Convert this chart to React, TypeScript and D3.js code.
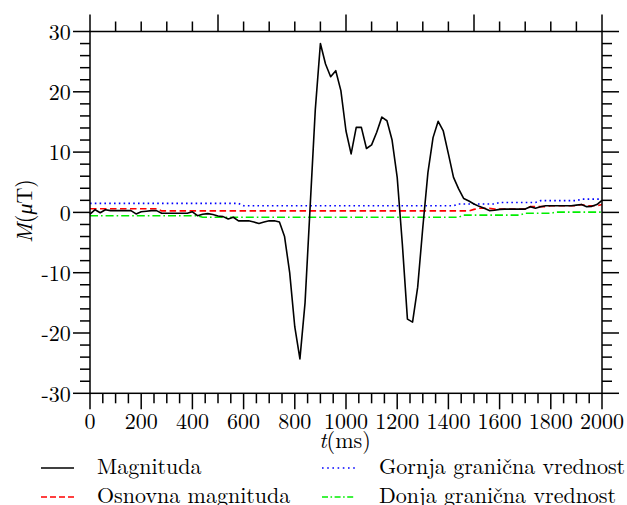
import React from "react";
import * as d3 from "d3";

const times = [
  0, 20, 40, 60, 80, 100, 120, 140, 160, 180, 200, 220, 240, 260, 280, 300, 320, 340, 360, 380,
  400, 420, 440, 460, 480, 500, 520, 540, 560, 580, 600, 620, 640, 660, 680, 700, 720, 740, 760, 780,
  800, 820, 840, 860, 880, 900, 920, 940, 960, 980, 1000, 1020, 1040, 1060, 1080, 1100, 1120, 1140, 1160, 1180,
  1200, 1220, 1240, 1260, 1280, 1300, 1320, 1340, 1360, 1380, 1400, 1420, 1440, 1460, 1480, 1500, 1520, 1540, 1560, 1580,
  1600, 1620, 1640, 1660, 1680, 1700, 1720, 1740, 1760, 1780, 1800, 1820, 1840, 1860, 1880, 1900, 1920, 1940, 1960, 1980, 2000,
];

const magnituda = [
  -0.3, 0.45, -0.05, 0.45, 0.3, 0.3, 0.3, 0.3, 0.3, -0.25, 0.1, 0.2, 0.3, 0.3, -0.15, -0.15, -0.15, -0.15, -0.15, -0.15,
  0.1, -0.55, -0.3, -0.2, -0.35, -0.6, -0.7, -1.1, -0.8, -1.4, -1.4, -1.4, -1.6, -1.85, -1.6, -1.4, -1.4, -1.6, -4.0, -10,
  -19, -24.3, -15, 1, 17, 28, 24.6, 22.5, 23.5, 20.2, 13.5, 9.7, 14.1, 14.1, 10.6, 11.2, 13.3, 15.8, 15.2, 12,
  5.8, -5.2, -17.7, -18.2, -12.4, -2.5, 6.6, 12.4, 15.1, 13.5, 9.7, 5.8, 3.9, 2.3, 1.9, 1.4, 1.0, 0.7, 0.3, 0.35,
  0.5, 0.55, 0.55, 0.55, 0.55, 0.55, 0.95, 0.7, 0.95, 1.1, 1.1, 1.1, 1.1, 1.1, 1.1, 1.2, 1.3, 0.95, 1.0, 1.3, 2.0,
];

const osnovna = [
  0.6, 0.6, 0.6, 0.6, 0.6, 0.6, 0.6, 0.6, 0.6, 0.6, 0.6, 0.6, 0.6, 0.6, 0.25, 0.25, 0.25, 0.25, 0.25, 0.25,
  0.25, 0.25, 0.25, 0.25, 0.25, 0.25, 0.25, 0.25, 0.25, 0.25, 0.25, 0.25, 0.25, 0.25, 0.25, 0.25, 0.25, 0.25, 0.25, 0.25,
  0.25, 0.25, 0.25, 0.25, 0.25, 0.25, 0.25, 0.25, 0.25, 0.25, 0.25, 0.25, 0.25, 0.25, 0.25, 0.25, 0.25, 0.25, 0.25, 0.25,
  0.25, 0.25, 0.25, 0.25, 0.25, 0.25, 0.25, 0.25, 0.25, 0.25, 0.25, 0.25, 0.25, 0.25, 0.25, 0.5, 0.7, 0.7, 0.7, 0.55,
  0.55, 0.55, 0.55, 0.55, 0.55, 0.55, 0.95, 0.95, 0.95, 0.95, 1.1, 1.1, 1.1, 1.1, 1.1, 1.1, 1.3, 1.1, 1.1, 1.1, 1.3,
];

const gornja = [
  1.5, 1.5, 1.5, 1.5, 1.5, 1.5, 1.5, 1.5, 1.5, 1.5, 1.5, 1.5, 1.5, 1.5, 1.5, 1.5, 1.5, 1.5, 1.5, 1.5,
  1.5, 1.5, 1.5, 1.5, 1.5, 1.5, 1.5, 1.5, 1.5, 1.5, 1.1, 1.1, 1.1, 1.1, 1.1, 1.1, 1.1, 1.1, 1.1, 1.1,
  1.1, 1.1, 1.1, 1.1, 1.1, 1.1, 1.1, 1.1, 1.1, 1.1, 1.1, 1.1, 1.1, 1.1, 1.1, 1.1, 1.1, 1.1, 1.1, 1.1,
  1.1, 1.1, 1.1, 1.1, 1.1, 1.1, 1.1, 1.1, 1.1, 1.1, 1.1, 1.1, 1.4, 1.4, 1.4, 1.4, 1.4, 1.4, 1.4, 1.4,
  1.65, 1.65, 1.65, 1.65, 1.65, 1.65, 1.65, 1.65, 1.95, 1.95, 1.95, 1.95, 1.95, 1.95, 1.95, 1.95, 2.2, 2.2, 2.2, 2.2, 2.2,
];

const donja = [
  -0.55, -0.55, -0.55, -0.55, -0.55, -0.55, -0.55, -0.55, -0.55, -0.55, -0.55, -0.55, -0.55, -0.55, -0.55, -0.55, -0.55, -0.55, -0.55, -0.55,
  -0.55, -0.55, -0.8, -0.8, -0.8, -0.8, -0.8, -0.8, -0.8, -0.8, -0.8, -0.8, -0.8, -0.8, -0.8, -0.8, -0.8, -0.8, -0.8, -0.8,
  -0.8, -0.8, -0.8, -0.8, -0.8, -0.8, -0.8, -0.8, -0.8, -0.8, -0.8, -0.8, -0.8, -0.8, -0.8, -0.8, -0.8, -0.8, -0.8, -0.8,
  -0.8, -0.8, -0.8, -0.8, -0.8, -0.8, -0.8, -0.8, -0.8, -0.8, -0.8, -0.8, -0.8, -0.45, -0.45, -0.45, -0.45, -0.45, -0.45, -0.45,
  -0.45, -0.45, -0.45, -0.45, -0.45, -0.15, -0.15, -0.15, -0.15, -0.15, -0.15, 0.05, 0.05, 0.05, 0.05, 0.05, 0.05, 0.05, 0.05, 0.05, 0.05,
];

const xTickLabels = [0, 200, 400, 600, 800, 1000, 1200, 1400, 1600, 1800, 2000];
const yTickLabels = [-30, -20, -10, 0, 10, 20, 30];

const W = 627;
const H = 505;
const left = 90;
const right = 602;
const top = 31.5;
const bottom = 393.3;
const FONT = "'Latin Modern Roman', 'Liberation Serif', serif";

export default function App() {
  const x = d3.scaleLinear().domain([0, 2000]).range([left, right]);
  const y = d3.scaleLinear().domain([-30, 30]).range([bottom, top]);

  const mk = (vals: number[]) =>
    d3
      .line<number>()
      .x((_, i) => x(times[i]))
      .y((v) => y(v))(vals) || "";

  const bottomMinor = d3.range(0, 2001, 50);
  const topMinor = d3.range(0, 2001, 100);
  const topMajor = d3.range(0, 2001, 500);
  const yMinor = d3.range(-30, 31, 2);

  const ax = { stroke: "#000", strokeWidth: 1.5 };
  const tf = { fontFamily: FONT };

  return (
    <svg
      width={W}
      height={H}
      style={{ position: "fixed", left: 0, top: 0, background: "#fff", fontFamily: FONT }}
    >
      <rect x={0} y={0} width={W} height={H} fill="#fff" />
      <path d={mk(gornja)} fill="none" stroke="#0000ff" strokeWidth={1.6} strokeDasharray="1.6 3.2" />
      <path d={mk(osnovna)} fill="none" stroke="#ff0000" strokeWidth={1.6} strokeDasharray="6.5 3.5" />
      <path d={mk(donja)} fill="none" stroke="#00ee00" strokeWidth={1.6} strokeDasharray="8 3 1.6 3" />
      <path d={mk(magnituda)} fill="none" stroke="#000" strokeWidth={1.6} strokeLinejoin="round" />

      <rect x={left} y={top} width={right - left} height={bottom - top} fill="none" {...ax} />

      {bottomMinor.map((t) => {
        const major = t % 200 === 0;
        return <line key={"b" + t} x1={x(t)} x2={x(t)} y1={bottom} y2={bottom + (major ? 16 : 10)} {...ax} />;
      })}
      {topMinor.map((t) => {
        const major = topMajor.includes(t);
        return <line key={"t" + t} x1={x(t)} x2={x(t)} y1={top} y2={top - (major ? 17 : 10)} {...ax} />;
      })}
      {yMinor.map((v) => {
        const major = v % 10 === 0;
        const len = major ? 17 : 10;
        return (
          <g key={"y" + v}>
            <line x1={left - len} x2={left} y1={y(v)} y2={y(v)} {...ax} />
            <line x1={right} x2={right + len} y1={y(v)} y2={y(v)} {...ax} />
          </g>
        );
      })}

      {xTickLabels.map((t) => (
        <text key={"xl" + t} x={x(t)} y={428.7} textAnchor="middle" fontSize={22} fill="#000" style={tf}>
          {String(t)}
        </text>
      ))}
      {yTickLabels.map((v) => (
        <text key={"yl" + v} x={70.8} y={y(v) + 8.2} textAnchor="end" fontSize={22} fill="#000" style={tf}>
          {v < 0 ? "-" + Math.abs(v) : String(v)}
        </text>
      ))}

      <text x={345} y={448} textAnchor="middle" fontSize={22} fill="#000" style={tf}>
        <tspan fontStyle="italic">t</tspan>(ms)
      </text>
      <text transform="translate(32,211) rotate(-90)" textAnchor="middle" fontSize={22} fill="#000" style={tf}>
        <tspan fontStyle="italic">M</tspan>(<tspan fontStyle="italic">μ</tspan>T)
      </text>

      <line x1={41} x2={74} y1={468} y2={468} stroke="#000" strokeWidth={1.6} />
      <text x={97} y={473.5} fontSize={22} fill="#000" style={tf}>
        Magnituda
      </text>
      <line x1={41} x2={74} y1={497} y2={497} stroke="#ff0000" strokeWidth={1.6} strokeDasharray="6 3" />
      <text x={97} y={502.5} fontSize={22} fill="#000" style={tf}>
        Osnovna magnituda
      </text>
      <line x1={322} x2={355} y1={468} y2={468} stroke="#0000ff" strokeWidth={1.6} strokeDasharray="1.6 3.6" />
      <text x={379} y={473.5} fontSize={22} fill="#000" style={tf}>
        Gornja granična vrednost
      </text>
      <line x1={322} x2={355} y1={497} y2={497} stroke="#00ee00" strokeWidth={1.6} strokeDasharray="6 2.5 1.6 2.5" />
      <text x={379} y={502.5} fontSize={22} fill="#000" style={tf}>
        Donja granična vrednost
      </text>
    </svg>
  );
}
